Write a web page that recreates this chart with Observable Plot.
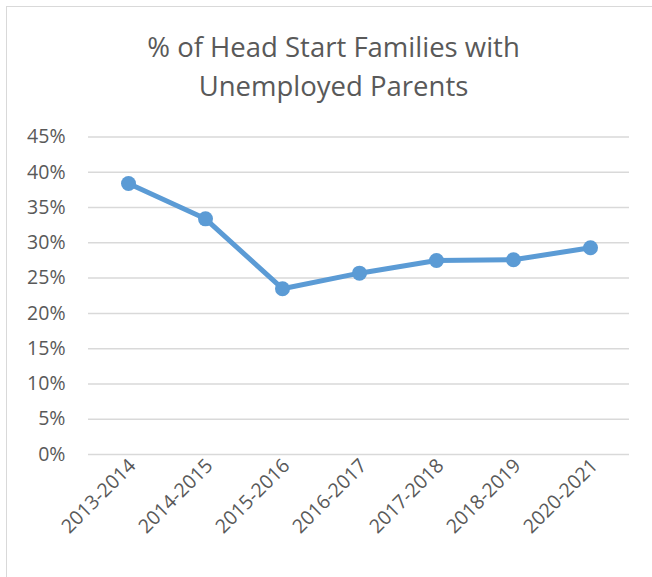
<!DOCTYPE html>
<html>
<head>
<meta charset="utf-8">
<script src="https://cdn.jsdelivr.net/npm/d3@7"></script>
<script src="https://cdn.jsdelivr.net/npm/@observablehq/plot@0.6"></script>
<style>
  html, body { margin: 0; padding: 0; background: #fff; }
  body { width: 652px; height: 577px; position: relative; overflow: hidden; font-family: "Open Sans", sans-serif; }
  #frame { position: absolute; left: 6px; top: 6px; width: 700px; height: 700px; border-left: 1.5px solid #d9d9d9; border-top: 1.5px solid #d9d9d9; box-sizing: border-box; }
  #title { position: absolute; left: 7px; width: 653px; top: 27px; text-align: center; color: #595959; font-size: 27.5px; line-height: 39px; font-weight: 400; }
  #chart { position: absolute; left: 0; top: 0; }
</style>
</head>
<body>
<div id="frame"></div>
<div id="chart"></div>
<div id="title">% of Head Start Families with<br>Unemployed Parents</div>
<script>
const years = ["2013-2014", "2014-2015", "2015-2016", "2016-2017", "2017-2018", "2018-2019", "2020-2021"];
const values = [38.4, 33.4, 23.5, 25.7, 27.5, 27.6, 29.3];
const yTicks = [0, 5, 10, 15, 20, 25, 30, 35, 40, 45];

const data = years.map((y, i) => ({year: y, value: values[i]}));

const plot = Plot.plot({
  width: 652,
  height: 577,
  marginLeft: 88,
  marginRight: 23,
  marginTop: 136.5,
  marginBottom: 123,
  style: {background: "transparent", fontFamily: "Open Sans, sans-serif", fontSize: "19.5px", color: "#595959"},
  x: {type: "point", domain: years, padding: 0.5, label: null},
  y: {domain: [0, 45], label: null},
  marks: [
    Plot.gridY(yTicks, {stroke: "#d9d9d9", strokeOpacity: 1, strokeWidth: 1.5}),
    Plot.axisY(yTicks, {tickSize: 0, tickPadding: 23, tickFormat: d => d + "%", fill: "#595959", fontSize: 19.5, label: null}),
    Plot.axisX({tickSize: 0, tickRotate: -45, tickPadding: 8, dx: 4, fill: "#595959", fontSize: 19.5, label: null}),
    Plot.line(data, {x: "year", y: "value", stroke: "#5b9bd5", strokeWidth: 5}),
    Plot.dot(data, {x: "year", y: "value", r: 7.5, fill: "#5b9bd5", stroke: "none"})
  ]
});
document.getElementById("chart").appendChild(plot);
</script>
</body>
</html>
